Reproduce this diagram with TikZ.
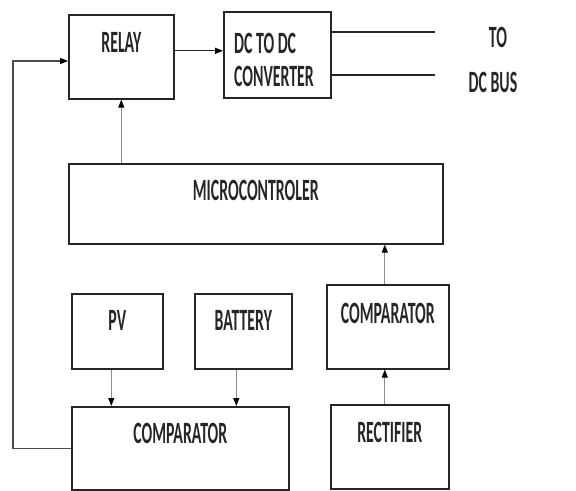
\documentclass[tikz,border=0pt]{standalone}
\usepackage{fontspec}
\newfontfamily\blockfont[FakeStretch=0.51]{Carlito Bold}
\usetikzlibrary{positioning, arrows.meta}

\tikzset{
  block/.style={draw=black!85, line width=1.6bp, anchor=north west, inner sep=0pt},
  tag/.style={font=\blockfont\fontsize{31bp}{33bp}\selectfont, text=black!85, inner sep=0pt},
  wire/.style={line width=1.2bp, black!85},
  sig/.style={wire, -{Triangle[length=8bp,width=6bp,black]}},
  feed/.style={sig, black!45},
}

\begin{document}
\begin{tikzpicture}[x=1bp, y=-1bp]
  \useasboundingbox (0,0) rectangle (576,491);

  % top row
  \node[block, minimum width=105bp, minimum height=84bp,
        label={[tag, anchor=center, yshift=-28bp]north:RELAY}] (relay) at (68,14) {};
  \node[block, minimum width=107bp, minimum height=86bp,
        label={[tag, align=left, anchor=west, xshift=11bp, yshift=-5.5bp]west:DC TO DC\\CONVERTER}] (conv) at (223,11) {};
  \node[tag] (to) at (498,37) {TO};
  \node[tag] (bus) at (493,82) {DC BUS};
  \coordinate (out1) at (435,32);
  \coordinate (out2) at (435,75);

  % middle
  \node[block, minimum width=374bp, minimum height=80bp,
        label={[tag, anchor=center, yshift=-27bp]north:MICROCONTROLER}] (micro) at (68,163) {};

  % bottom row
  \node[block, minimum width=91bp, minimum height=75bp,
        label={[tag, anchor=center, yshift=-27bp]north:PV}] (pv) at (71,293) {};
  \node[block, minimum width=97bp, minimum height=75bp,
        label={[tag, anchor=center, yshift=-27bp]north:BATTERY}] (batt) at (194,293) {};
  \node[block, minimum width=217bp, minimum height=83bp,
        label={[tag, anchor=center, yshift=-27bp]north:COMPARATOR}] (lowcomp) at (71,406) {};
  \node[block, minimum width=122bp, minimum height=84bp,
        label={[tag, anchor=center, yshift=-29bp]north:COMPARATOR}] (rcomp) at (326,284) {};
  \node[block, minimum width=118bp, minimum height=84bp,
        label={[tag, anchor=center, yshift=-28bp]north:RECTIFIER}] (rect) at (330,404) {};
  \coordinate (fbcorner) at (13,61);

  % connectors
  \draw[sig] ([yshift=6bp]relay.east) -- ([yshift=6bp]relay.east -| conv.west);
  \draw[wire] (conv.east |- out1) -- (out1);
  \draw[wire] (conv.east |- out2) -- (out2);
  \draw[feed] (micro.north -| relay.south) -- (relay.south);
  \draw[feed] ([xshift=-3bp]rcomp.north) -- ([xshift=-3bp]rcomp.north |- micro.south);
  \draw[feed] ([xshift=-5bp]rect.north) -- ([xshift=-5bp]rect.north |- rcomp.south);
  \draw[feed] ([xshift=-6bp]pv.south) -- ([xshift=-6bp]pv.south |- lowcomp.north);
  \draw[feed] ([xshift=-7bp]batt.south) -- ([xshift=-7bp]batt.south |- lowcomp.north);
  \draw[sig, black!70] (lowcomp.west) -| (fbcorner) -- (relay.west |- fbcorner);
\end{tikzpicture}
\end{document}
